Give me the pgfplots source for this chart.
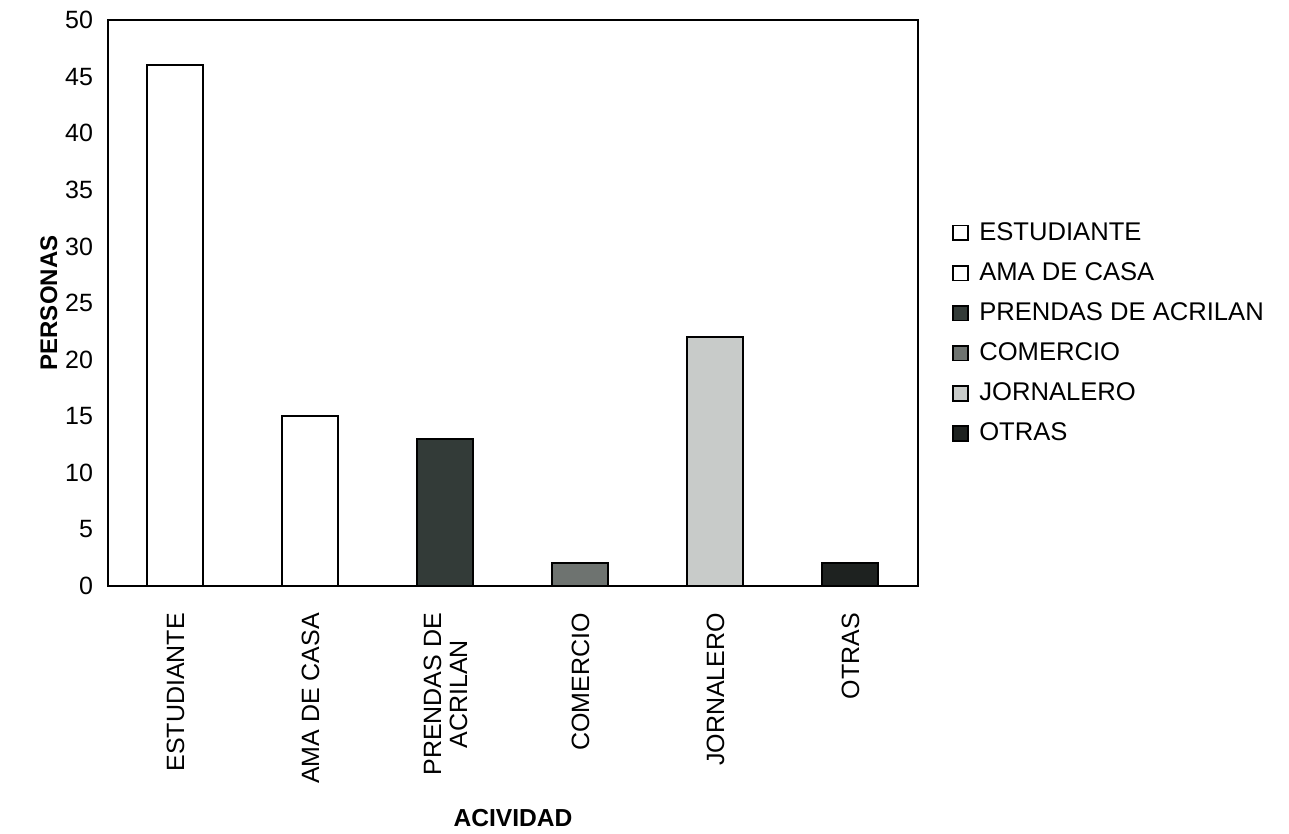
\documentclass[border=0pt]{standalone}
\usepackage{pgfplots}
\pgfplotsset{compat=1.18}
\usepackage{fontspec}
\setmainfont{Liberation Sans}
\definecolor{prendas}{HTML}{333B38}
\definecolor{comercio}{HTML}{6E7370}
\definecolor{jornal}{HTML}{C8CBC9}
\definecolor{otras}{HTML}{1E2220}
\begin{document}
\begin{tikzpicture}
\begin{axis}[
  scale only axis,
  width=405pt, height=283pt,
  ybar,
  bar width=28pt,
  xmin=-0.5, xmax=5.5,
  ymin=0, ymax=50,
  ytick={0,5,...,50},
  xtick={0,1,2,3,4,5},
  xticklabels={ESTUDIANTE,AMA DE CASA,{PRENDAS DE\\ACRILAN},COMERCIO,JORNALERO,OTRAS},
  major tick length=0pt,
  /pgf/number format/assume math mode=true,
  tick label style={font=\fontsize{12.5}{13}\selectfont},
  yticklabel style={xshift=-4pt},
  xticklabel style={rotate=90, anchor=east, align=center, xshift=-10pt},
  ylabel={\textbf{PERSONAS}},
  ylabel style={font=\fontsize{12}{13}\selectfont, yshift=-3pt},
  xlabel={\textbf{ACIVIDAD}},
  xlabel style={font=\fontsize{12.3}{14}\selectfont, yshift=-6pt},
  axis line style={black, line width=0.8pt},
  legend style={at={(1.042,0.65)}, anchor=north west, draw=none,
    font=\fontsize{12.8}{14}\selectfont, row sep=5.6pt, inner sep=0pt,
    legend cell align=left},
  legend image code/.code={\draw[#1, line width=0.9pt] (0pt,-3.7pt) rectangle (7.4pt,3.7pt);\path (10.5pt,0pt);},
  every axis plot/.append style={draw=black, line width=1pt, bar shift=0pt},
]
\addplot[fill=white] coordinates {(0,46)};
\addlegendentry{ESTUDIANTE}
\addplot[fill=white] coordinates {(1,15)};
\addlegendentry{AMA DE CASA}
\addplot[fill=prendas] coordinates {(2,13)};
\addlegendentry{PRENDAS DE ACRILAN}
\addplot[fill=comercio] coordinates {(3,2)};
\addlegendentry{COMERCIO}
\addplot[fill=jornal] coordinates {(4,22)};
\addlegendentry{JORNALERO}
\addplot[fill=otras] coordinates {(5,2)};
\addlegendentry{OTRAS}
\end{axis}
\useasboundingbox (current axis.south west) ++(-54pt,-124pt) rectangle ++(644.5pt,417pt);
\end{tikzpicture}
\end{document}
